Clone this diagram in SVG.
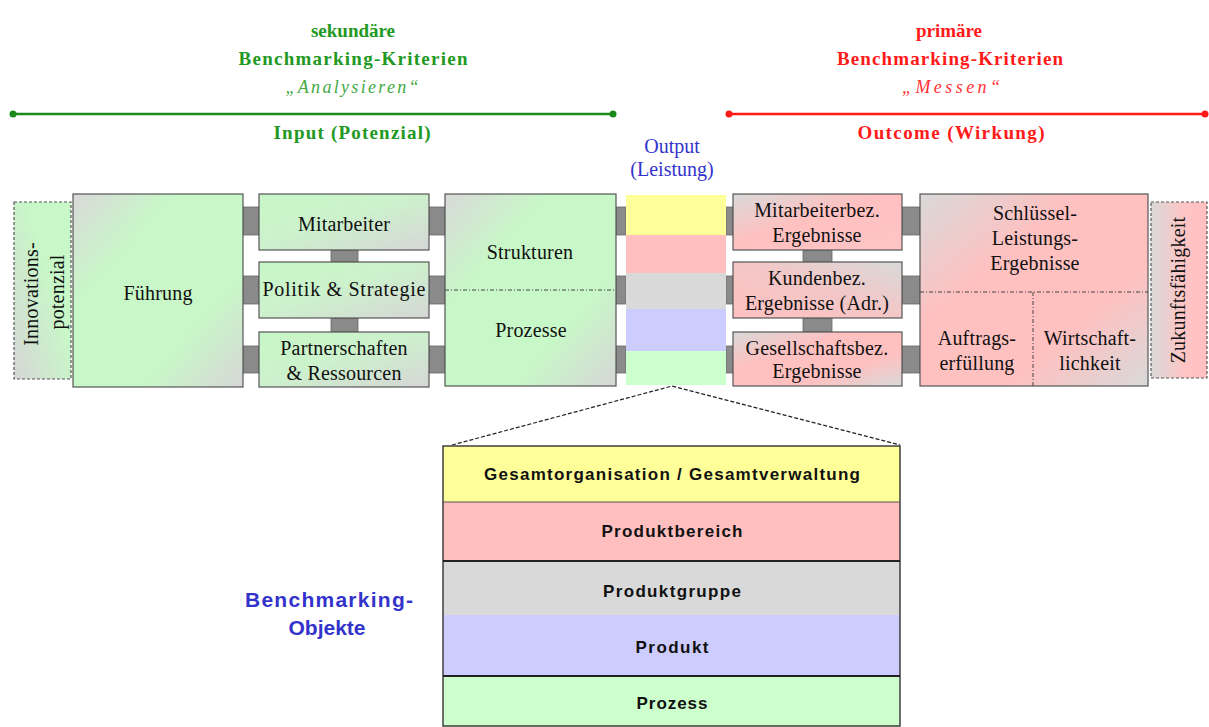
<svg xmlns="http://www.w3.org/2000/svg" width="1209" height="727" viewBox="0 0 1209 727">
<style>
.box{stroke:#555;stroke-width:1.2}
.dash{stroke:#555;stroke-width:1.2;stroke-dasharray:3 2}
.conn{fill:#8a8a8a;stroke:#666;stroke-width:0.8}
.t{font-family:"Liberation Serif","Times New Roman",serif;font-size:20px;fill:#111;text-anchor:middle;letter-spacing:0.2px}
.hg{font-family:"Liberation Serif","Times New Roman",serif;font-size:19px;font-weight:bold;fill:#229922;text-anchor:middle}
.hr{font-family:"Liberation Serif","Times New Roman",serif;font-size:19px;font-weight:bold;fill:#ff1a1a;text-anchor:middle}
.ig{font-family:"Liberation Serif","Times New Roman",serif;font-size:18px;font-style:italic;fill:#44aa44;text-anchor:middle}
.ir{font-family:"Liberation Serif","Times New Roman",serif;font-size:18px;font-style:italic;fill:#ff3333;text-anchor:middle}
.ho{font-family:"Liberation Serif","Times New Roman",serif;font-size:20px;fill:#3333cc;text-anchor:middle}
.tb{font-family:"Liberation Sans",Arial,sans-serif;font-size:17px;font-weight:bold;fill:#111;text-anchor:middle}
.bo{font-family:"Liberation Sans",Arial,sans-serif;font-size:21px;font-weight:bold;fill:#3333cc;text-anchor:middle}
.dot{fill:none;stroke:#444;stroke-width:1;stroke-dasharray:4 2 1 2}
</style>
<defs>
<linearGradient id="gBand" x1="0" y1="0" x2="1" y2="1">
<stop offset="0" stop-color="#d9d9d9"/><stop offset="0.3" stop-color="#c8f7c8"/><stop offset="0.7" stop-color="#c8f7c8"/><stop offset="1" stop-color="#d6d6d6"/>
</linearGradient>
<linearGradient id="gGreen" x1="0" y1="0" x2="1" y2="1">
<stop offset="0" stop-color="#c8f7c8"/><stop offset="0.45" stop-color="#ccf2cc"/><stop offset="1" stop-color="#d6d6d6"/>
</linearGradient>
<linearGradient id="gInno" x1="0" y1="1" x2="1" y2="0">
<stop offset="0" stop-color="#d6d6d6"/><stop offset="0.6" stop-color="#c8f7c8"/><stop offset="1" stop-color="#c8f7c8"/>
</linearGradient>
<linearGradient id="pA" x1="0" y1="0" x2="1" y2="1">
<stop offset="0" stop-color="#d9d9d9"/><stop offset="0.45" stop-color="#ffc0c0"/><stop offset="1" stop-color="#ffc4c4"/>
</linearGradient>
<linearGradient id="pB" x1="0" y1="1" x2="1" y2="0">
<stop offset="0" stop-color="#ffc0c0"/><stop offset="0.5" stop-color="#f4c6c6"/><stop offset="1" stop-color="#d9d9d9"/>
</linearGradient>
<linearGradient id="pBand" x1="0" y1="0" x2="1" y2="1">
<stop offset="0" stop-color="#d9d9d9"/><stop offset="0.35" stop-color="#ffc0c0"/><stop offset="0.68" stop-color="#ffc0c0"/><stop offset="1" stop-color="#d9d9d9"/>
</linearGradient>
<linearGradient id="pZ" x1="0" y1="0" x2="1" y2="0">
<stop offset="0" stop-color="#d9d9d9"/><stop offset="0.6" stop-color="#ffc4c4"/><stop offset="1" stop-color="#ffc0c0"/>
</linearGradient>
</defs>
<rect width="1209" height="727" fill="#fff"/>

<g id="header-left">
<text class="hg" x="353" y="37">sekundäre</text>
<text class="hg" x="353" y="65" textLength="229" lengthAdjust="spacing">Benchmarking-Kriterien</text>
<text class="ig" x="352" y="93" textLength="133" lengthAdjust="spacing">„Analysieren“</text>
<line x1="13" y1="114" x2="613" y2="114" stroke="#1a8a1a" stroke-width="2.5"/>
<circle cx="13" cy="114" r="3.5" fill="#1a8a1a"/><circle cx="613" cy="114" r="3.5" fill="#1a8a1a"/>
<text class="hg" x="352" y="139" textLength="157" lengthAdjust="spacing">Input (Potenzial)</text>
</g>
<g id="header-right">
<text class="hr" x="949" y="37">primäre</text>
<text class="hr" x="950" y="65" textLength="226" lengthAdjust="spacing">Benchmarking-Kriterien</text>
<text class="ir" x="951" y="93" textLength="98" lengthAdjust="spacing">„Messen“</text>
<line x1="729" y1="114" x2="1206" y2="114" stroke="#ff1a1a" stroke-width="2.5"/>
<circle cx="729" cy="114" r="3.5" fill="#ff1a1a"/><circle cx="1205" cy="114" r="3.5" fill="#ff1a1a"/>
<text class="hr" x="951" y="139" textLength="187" lengthAdjust="spacing">Outcome (Wirkung)</text>
</g>
<g id="header-output">
<text class="ho" x="672" y="153">Output</text>
<text class="ho" x="672" y="176">(Leistung)</text>
</g>

<g id="connectors">
<rect class="conn" x="243" y="207" width="16" height="28"/>
<rect class="conn" x="243" y="276" width="16" height="28"/>
<rect class="conn" x="243" y="346" width="16" height="27"/>
<rect class="conn" x="331" y="250" width="27" height="12"/>
<rect class="conn" x="331" y="318" width="27" height="14"/>
<rect class="conn" x="429" y="207" width="16" height="28"/>
<rect class="conn" x="429" y="276" width="16" height="28"/>
<rect class="conn" x="429" y="346" width="16" height="27"/>
<rect class="conn" x="616" y="207" width="10" height="28"/>
<rect class="conn" x="616" y="276" width="10" height="28"/>
<rect class="conn" x="616" y="346" width="10" height="27"/>
<rect class="conn" x="726" y="207" width="7" height="28"/>
<rect class="conn" x="726" y="276" width="7" height="28"/>
<rect class="conn" x="726" y="346" width="7" height="27"/>
<rect class="conn" x="803" y="250" width="29" height="12"/>
<rect class="conn" x="803" y="318" width="29" height="14"/>
<rect class="conn" x="902" y="207" width="18" height="28"/>
<rect class="conn" x="902" y="276" width="18" height="28"/>
<rect class="conn" x="902" y="346" width="18" height="27"/>
<polyline points="452,445 672,386 900,445" fill="none" stroke="#222" stroke-width="1.2" stroke-dasharray="4 2"/>
</g>

<g id="innovationspotenzial">
<rect class="dash" x="14" y="202" width="57" height="177" fill="url(#gInno)"/>
<text class="t" transform="translate(38,294) rotate(-90)">Innovations-</text>
<text class="t" transform="translate(64,292) rotate(-90)">potenzial</text>
</g>
<g id="fuehrung">
<rect class="box" x="73" y="194" width="170" height="193" fill="url(#gBand)"/>
<text class="t" x="158" y="300">Führung</text>
</g>
<g id="mitarbeiter">
<rect class="box" x="259" y="194" width="170" height="56" fill="url(#gGreen)"/>
<text class="t" x="344" y="231">Mitarbeiter</text>
</g>
<g id="politik">
<rect class="box" x="259" y="262" width="170" height="56" fill="url(#gGreen)"/>
<text class="t" x="344" y="296" textLength="163" lengthAdjust="spacing">Politik &amp; Strategie</text>
</g>
<g id="partnerschaften">
<rect class="box" x="259" y="332" width="170" height="55" fill="url(#gGreen)"/>
<text class="t" x="344" y="355">Partnerschaften</text>
<text class="t" x="344" y="380">&amp; Ressourcen</text>
</g>
<g id="strukturen-prozesse">
<rect class="box" x="445" y="194" width="171" height="192" fill="url(#gBand)"/>
<line class="dot" x1="445" y1="290" x2="616" y2="290"/>
<text class="t" x="530" y="259">Strukturen</text>
<text class="t" x="531" y="337">Prozesse</text>
</g>
<g id="output">
<rect x="626" y="195" width="100" height="40" fill="#ffff99"/>
<rect x="626" y="235" width="100" height="38" fill="#ffbfbf"/>
<rect x="626" y="273" width="100" height="36" fill="#d9d9d9"/>
<rect x="626" y="309" width="100" height="42" fill="#ccccff"/>
<rect x="626" y="351" width="100" height="34" fill="#ccffcc"/>
</g>
<g id="mitarbeiterbez">
<rect class="box" x="733" y="194" width="169" height="56" fill="url(#pA)"/>
<text class="t" x="817" y="217">Mitarbeiterbez.</text>
<text class="t" x="817" y="242">Ergebnisse</text>
</g>
<g id="kundenbez">
<rect class="box" x="733" y="262" width="169" height="56" fill="url(#pB)"/>
<text class="t" x="817" y="285">Kundenbez.</text>
<text class="t" x="817" y="310">Ergebnisse (Adr.)</text>
</g>
<g id="gesellschaftsbez">
<rect class="box" x="733" y="332" width="169" height="54" fill="url(#pBand)"/>
<text class="t" x="817" y="355">Gesellschaftsbez.</text>
<text class="t" x="817" y="378">Ergebnisse</text>
</g>
<g id="schluessel">
<rect class="box" x="920" y="194" width="228" height="192" fill="url(#pBand)"/>
<line class="dot" x1="920" y1="292" x2="1148" y2="292"/>
<line class="dot" x1="1033" y1="292" x2="1033" y2="386"/>
<text class="t" x="1035" y="220">Schlüssel-</text>
<text class="t" x="1035" y="245">Leistungs-</text>
<text class="t" x="1035" y="270">Ergebnisse</text>
<text class="t" x="977" y="345">Auftrags-</text>
<text class="t" x="977" y="370">erfüllung</text>
<text class="t" x="1090" y="345">Wirtschaft-</text>
<text class="t" x="1090" y="370">lichkeit</text>
</g>
<g id="zukunftsfaehigkeit">
<rect class="dash" x="1151" y="202" width="56" height="176" fill="url(#pZ)"/>
<text class="t" transform="translate(1185,290) rotate(-90)">Zukunftsfähigkeit</text>
</g>

<g id="benchmarking-objekte">
<text class="bo" x="329" y="607" textLength="168" lengthAdjust="spacing">Benchmarking-</text>
<text class="bo" x="327" y="635">Objekte</text>
</g>
<g id="objekt-tabelle">
<rect x="443" y="446" width="457" height="56" fill="#ffff99"/>
<rect x="443" y="502" width="457" height="59" fill="#ffbfbf"/>
<rect x="443" y="561" width="457" height="54" fill="#d9d9d9"/>
<rect x="443" y="615" width="457" height="61" fill="#ccccff"/>
<rect x="443" y="676" width="457" height="51" fill="#ccffcc"/>
<rect x="443" y="446" width="457" height="280" fill="none" stroke="#333" stroke-width="1.4"/>
<line x1="443" y1="502" x2="900" y2="502" stroke="#555" stroke-width="1"/>
<line x1="443" y1="561" x2="900" y2="561" stroke="#222" stroke-width="2"/>
<line x1="443" y1="676" x2="900" y2="676" stroke="#222" stroke-width="2"/>
<text class="tb" x="672" y="480" textLength="376" lengthAdjust="spacing">Gesamtorganisation / Gesamtverwaltung</text>
<text class="tb" x="672" y="537" textLength="141" lengthAdjust="spacing">Produktbereich</text>
<text class="tb" x="672" y="597" textLength="138" lengthAdjust="spacing">Produktgruppe</text>
<text class="tb" x="672" y="653" textLength="73" lengthAdjust="spacing">Produkt</text>
<text class="tb" x="672" y="709" textLength="71" lengthAdjust="spacing">Prozess</text>
</g>
</svg>
